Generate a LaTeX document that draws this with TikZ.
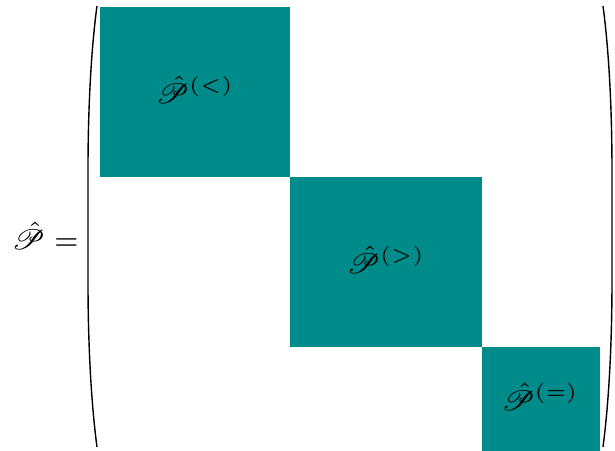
\documentclass[tikz,border=0pt]{standalone}
\usepackage{amsmath}
\usepackage{mathrsfs}
\usepackage{tikz}
\usepackage{xcolor}
\usetikzlibrary{positioning, calc}
\definecolor{BlockTeal}{HTML}{008B8B}

\begin{document}
\begin{tikzpicture}[x=0.25pt, y=-0.25pt, every node/.style={font=\scriptsize}]
\useasboundingbox (0,0) rectangle (615,451);
% --- Block-diagonal matrix ---
\begin{scope}[shift={(0,0)}]
\node (lhs) at (45,236) {$\hat{\mathscr{P}} =$};
% Diagonal blocks
\fill[BlockTeal] (100,7) rectangle (290,177);
\fill[BlockTeal] (290,177) rectangle (482,347);
\fill[BlockTeal] (482,347) rectangle (600,451);
\node (lt) at (195,90) {$\hat{\mathscr{P}}^{(<)}$};
\node (gt) at (386,260) {$\hat{\mathscr{P}}^{(>)}$};
\node (eq) at (540,397) {$\hat{\mathscr{P}}^{(=)}$};
% Parentheses
\draw[line width=0.35pt] (97,6) .. controls (91,50) and (88,110) .. (88,170) -- (88,282) .. controls (88,342) and (91,402) .. (97,447);
\draw[line width=0.35pt] (603,6) .. controls (609,50) and (612,110) .. (612,170) -- (612,282) .. controls (612,342) and (609,402) .. (603,447);
\end{scope}
\end{tikzpicture}
\end{document}
